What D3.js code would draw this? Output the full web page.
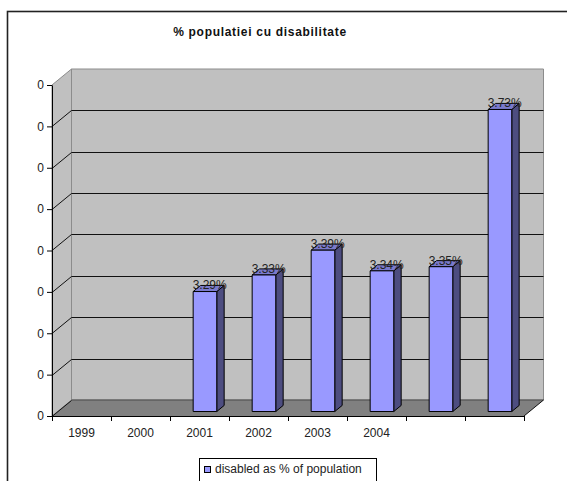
<!DOCTYPE html>
<html>
<head>
<meta charset="utf-8">
<script src="https://cdn.jsdelivr.net/npm/d3@7"></script>
<style>
  html, body { margin: 0; padding: 0; background: #fff; }
  svg { display: block; font-family: Arial, "Liberation Sans", sans-serif; }
</style>
</head>
<body>
<svg id="chart" width="567" height="481"></svg>
<script>
// Share of the population with a disability, by year
const categories = ["1999", "2000", "2001", "2002", "2003", "2004", "c7", "c8"];
const tickLabels = ["1999", "2000", "2001", "2002", "2003", "2004", "", ""];
const values = [null, null, 0.0329, 0.0333, 0.0339, 0.0334, 0.0335, 0.0373];
const valueLabels = ["", "", "3.29%", "3.33%", "3.39%", "3.34%", "3.35%", "3.73%"];
const yDomain = [0.03, 0.038];
const seriesName = "disabled as % of population";
const title = "% populatiei cu disabilitate";

const svg = d3.select("#chart");

// Plot frame (front plane) and the 3D depth vector
const plotL = 52, plotR = 524, plotB = 416, plotT = 85;
const depth = { dx: 19.5, dy: -16 };
const pt = (x, y, t) => [x + depth.dx * t, y + depth.dy * t];

const x = d3.scaleBand().domain(categories).range([plotL, plotR]).paddingInner(0).paddingOuter(0);
const xEdge = d3.scaleLinear().domain([0, categories.length]).range([plotL, plotR]);
const y = d3.scaleLinear().domain(yDomain).range([plotB, plotT]);
const yTicks = y.ticks(8);

// Chart area border
svg.append("rect")
  .attr("x", 7.5).attr("y", 11.5).attr("width", 600).attr("height", 500)
  .attr("fill", "none").attr("stroke", "#222").attr("stroke-width", 1.6);

// Title
svg.append("text")
  .attr("x", 260).attr("y", 36).attr("text-anchor", "middle")
  .attr("font-size", 12).attr("font-weight", "bold").attr("fill", "#111")
  .attr("letter-spacing", 0.7)
  .text(title);

const line = d3.line();
const poly = pts => line(pts) + "Z";

// Back wall
svg.append("path")
  .attr("d", poly([pt(plotL, plotT, 1), pt(plotR, plotT, 1), pt(plotR, plotB, 1), pt(plotL, plotB, 1)]))
  .attr("fill", "#c0c0c0").attr("stroke", "#8c8c8c").attr("stroke-width", 1);

// Side wall
svg.append("path")
  .attr("d", poly([[plotL, plotT], pt(plotL, plotT, 1), pt(plotL, plotB, 1), [plotL, plotB]]))
  .attr("fill", "#c0c0c0").attr("stroke", "#8c8c8c").attr("stroke-width", 1);

// Floor
svg.append("path")
  .attr("d", poly([[plotL, plotB], [plotR, plotB], pt(plotR, plotB, 1), pt(plotL, plotB, 1)]))
  .attr("fill", "#808080").attr("stroke", "none");
svg.append("path")
  .attr("d", line([pt(plotL, plotB, 1), pt(plotR, plotB, 1)]))
  .attr("stroke", "#4a4a4a").attr("stroke-width", 1).attr("fill", "none");
svg.append("path")
  .attr("d", line([[plotR, plotB], pt(plotR, plotB, 1)]))
  .attr("stroke", "#111").attr("stroke-width", 1).attr("fill", "none");

// Gridlines on the side wall and back wall
const grid = svg.append("g").attr("stroke", "#111").attr("stroke-width", 1).attr("fill", "none");
yTicks.slice(0, -1).forEach((v, i) => {
  const yy = Math.round(y(v)) + 0.5;
  grid.append("path").attr("d", line([[plotL, yy], pt(plotL, yy, 1)]));
  if (i > 0) grid.append("path").attr("d", line([pt(plotL, yy, 1), pt(plotR, yy, 1)]));
});

// Bars (3D columns)
const band = x.bandwidth();
const barW = band * 0.4;
const tFront = 0.28, tBack = 0.66;
const bars = svg.append("g").attr("stroke", "#000").attr("stroke-width", 1).attr("stroke-linejoin", "round");
categories.forEach((c, i) => {
  const v = values[i];
  if (v == null) return;
  const cx = x(c) + band / 2;
  const [xl, yb] = pt(cx - barW / 2, y(yDomain[0]), tFront);
  const [, yt] = pt(cx, y(v), tFront);
  const xr = xl + barW;
  const ddx = depth.dx * (tBack - tFront), ddy = depth.dy * (tBack - tFront);
  bars.append("path").attr("d", poly([[xr, yt], [xr + ddx, yt + ddy], [xr + ddx, yb + ddy], [xr, yb]]))
    .attr("fill", "#4d4d80");
  bars.append("path").attr("d", poly([[xl, yt], [xr, yt], [xr + ddx, yt + ddy], [xl + ddx, yt + ddy]]))
    .attr("fill", "#7a7acc");
  bars.append("path").attr("d", poly([[xl, yt], [xr, yt], [xr, yb], [xl, yb]]))
    .attr("fill", "#9999ff");
});

// Value labels
categories.forEach((c, i) => {
  const v = values[i];
  if (v == null) return;
  const cx = x(c) + band / 2;
  const [lx, ly] = pt(cx, y(v), (tFront + tBack) / 2);
  svg.append("text")
    .attr("x", lx + 1).attr("y", ly + 1).attr("text-anchor", "middle")
    .attr("font-size", 12).attr("fill", "#222")
    .text(valueLabels[i]);
});

// Value axis
const yAxis = svg.append("g")
  .attr("transform", `translate(${plotL},0)`)
  .call(d3.axisLeft(y).tickValues(yTicks).tickFormat(d3.format(".0f")).tickSize(5).tickPadding(3).tickSizeOuter(0));
yAxis.select(".domain").attr("stroke", "#000");
yAxis.selectAll(".tick line").attr("stroke", "#000");
yAxis.selectAll("text").attr("font-size", 12).attr("fill", "#222").attr("font-family", "Arial, 'Liberation Sans', sans-serif");

// Category axis (ticks between categories)
const xAxis = svg.append("g")
  .attr("transform", `translate(0,${plotB})`)
  .call(d3.axisBottom(xEdge).tickValues(d3.range(categories.length + 1)).tickFormat("").tickSize(5).tickSizeOuter(0));
xAxis.select(".domain").attr("stroke", "#000");
xAxis.selectAll(".tick line").attr("stroke", "#000");

svg.append("g").selectAll("text")
  .data(categories)
  .join("text")
  .attr("x", d => x(d) + band / 2)
  .attr("y", 437)
  .attr("text-anchor", "middle")
  .attr("font-size", 12).attr("fill", "#222")
  .text((d, i) => tickLabels[i]);

// Legend
const legend = svg.append("g");
legend.append("rect")
  .attr("x", 199.5).attr("y", 458.5).attr("width", 177).attr("height", 40)
  .attr("fill", "#fff").attr("stroke", "#000").attr("stroke-width", 1);
legend.append("rect")
  .attr("x", 204.5).attr("y", 466.5).attr("width", 6).attr("height", 6)
  .attr("fill", "#9999ff").attr("stroke", "#000").attr("stroke-width", 1);
legend.append("text")
  .attr("x", 215).attr("y", 473)
  .attr("font-size", 12).attr("fill", "#222")
  .text(seriesName);
</script>
</body>
</html>
